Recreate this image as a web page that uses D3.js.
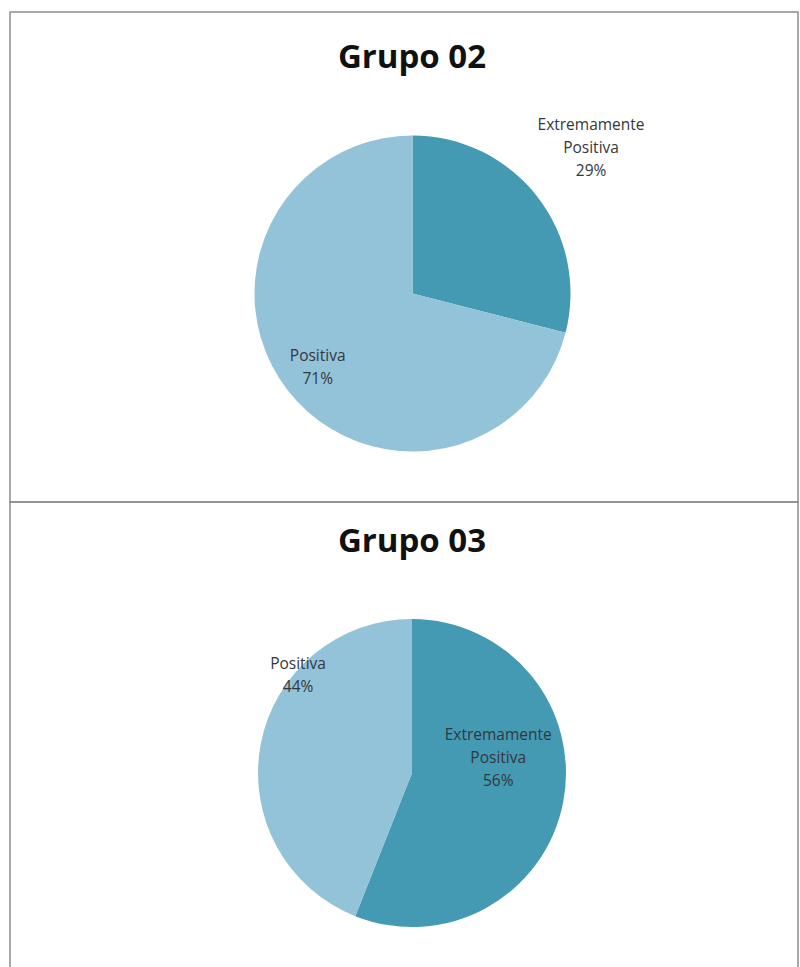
<!DOCTYPE html>
<html>
<head>
<meta charset="utf-8">
<script src="https://cdn.jsdelivr.net/npm/d3@7"></script>
<style>
  html, body { margin: 0; padding: 0; background: #ffffff; }
  svg { display: block; }
</style>
</head>
<body>
<svg id="chart" width="800" height="967"></svg>
<script>
// Response categories and share (%) per group
const categories = ["Extremamente Positiva", "Positiva"];
const labelLines = [["Extremamente", "Positiva"], ["Positiva"]];
const grupo02 = [29, 71];
const grupo03 = [56, 44];
const titles = ["Grupo 02", "Grupo 03"];

const colors = d3.scaleOrdinal().domain(categories).range(["#4499b3", "#93c3d8"]);

const svg = d3.select("#chart");

// Panel frames and pie geometry
const panels = [
  { title: titles[0], values: grupo02, top: 12, bottom: 502, titleY: 68, cx: 412.5, cy: 293.5, r: 158,
    // label anchor as fraction of radius from pie centre
    labels: [[1.13, -0.92], [-0.60, 0.47]] },
  { title: titles[1], values: grupo03, top: 502, bottom: 990, titleY: 552, cx: 412, cy: 773, r: 154,
    labels: [[0.56, -0.10], [-0.74, -0.63]] }
];

const pie = d3.pie().sort(null).value(d => d.value);

panels.forEach(p => {
  const g = svg.append("g");

  g.append("rect")
    .attr("x", 10).attr("y", p.top)
    .attr("width", 788).attr("height", p.bottom - p.top)
    .attr("fill", "none")
    .attr("stroke", "#8c8c8c")
    .attr("stroke-width", 1.5);

  g.append("text")
    .attr("x", 412).attr("y", p.titleY)
    .attr("text-anchor", "middle")
    .attr("font-family", "'Open Sans', sans-serif")
    .attr("font-weight", "bold")
    .attr("font-size", 33)
    .attr("fill", "#111111")
    .text(p.title);

  const data = categories.map((c, i) => ({ category: c, value: p.values[i], lines: labelLines[i] }));
  const arcs = pie(data);
  const arc = d3.arc().innerRadius(0).outerRadius(p.r);

  const pieG = g.append("g").attr("transform", `translate(${p.cx},${p.cy})`);
  pieG.selectAll("path")
    .data(arcs)
    .join("path")
    .attr("d", arc)
    .attr("fill", d => colors(d.data.category));

  const lineH = 23;
  arcs.forEach((a, i) => {
    const lines = a.data.lines.concat([a.data.value + "%"]);
    const lx = p.labels[i][0] * p.r;
    const ly = p.labels[i][1] * p.r;
    const t = pieG.append("text")
      .attr("text-anchor", "middle")
      .attr("font-family", "'Open Sans', sans-serif")
      .attr("font-size", 15.5)
      .attr("fill", "#33383c");
    const y0 = ly - (lines.length - 1) * lineH / 2 + 5;
    lines.forEach((s, k) => {
      t.append("tspan").attr("x", lx).attr("y", y0 + k * lineH).text(s);
    });
  });
});
</script>
</body>
</html>
